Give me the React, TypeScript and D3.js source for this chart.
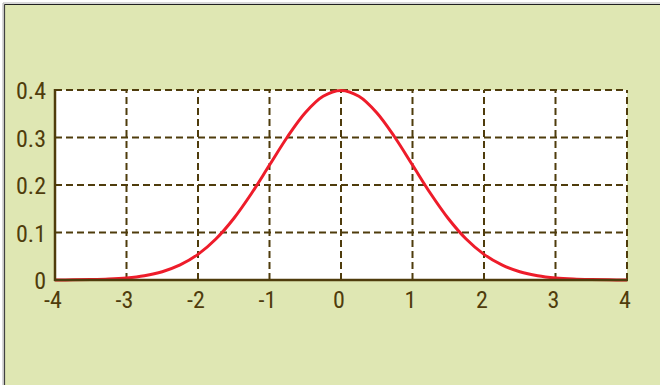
import React from "react";
import * as d3 from "d3";

const xValues = [-4, -3.75, -3.5, -3.25, -3, -2.75, -2.5, -2.25, -2, -1.75, -1.5, -1.25, -1, -0.75, -0.5, -0.25, 0, 0.25, 0.5, 0.75, 1, 1.25, 1.5, 1.75, 2, 2.25, 2.5, 2.75, 3, 3.25, 3.5, 3.75, 4];
const yValues = [0.0001, 0.0004, 0.0009, 0.002, 0.0044, 0.0091, 0.0175, 0.0317, 0.054, 0.0863, 0.1295, 0.1826, 0.242, 0.3011, 0.3521, 0.3867, 0.3989, 0.3867, 0.3521, 0.3011, 0.242, 0.1826, 0.1295, 0.0863, 0.054, 0.0317, 0.0175, 0.0091, 0.0044, 0.002, 0.0009, 0.0004, 0.0001];
const xTicks = [-4, -3, -2, -1, 0, 1, 2, 3, 4];
const yTicks = [0, 0.1, 0.2, 0.3, 0.4];

const W = 660;
const H = 385;
const left = 55;
const right = 627;
const top = 90;
const bottom = 280;

const axisColor = "#4f3c0c";
const font = "'Liberation Sans Narrow', 'Roboto Condensed', 'Liberation Sans', Arial, sans-serif";

export default function App() {
  const x = d3.scaleLinear().domain([-4, 4]).range([left, right]);
  const y = d3.scaleLinear().domain([0, 0.4]).range([bottom, top]);
  const pts: [number, number][] = xValues.map((v, i) => [v, yValues[i]]);
  const line = d3
    .line<[number, number]>()
    .x((d) => x(d[0]))
    .y((d) => y(d[1]))
    .curve(d3.curveCatmullRom.alpha(0.5));

  return (
    <svg width={W} height={H} style={{ position: "absolute", left: 0, top: 0 }}>
      <rect x={0} y={0} width={W} height={H} fill="#ffffff" />
      <rect x={4} y={4} width={W} height={H} fill="#dfe7b3" />
      <line x1={3} y1={3} x2={3} y2={H} stroke="#b0b0b0" strokeWidth={1} />
      <line x1={3} y1={3} x2={W} y2={3} stroke="#b0b0b0" strokeWidth={1} />
      <line x1={4.5} y1={4.5} x2={4.5} y2={H} stroke="#404040" strokeWidth={1.2} />
      <line x1={4.5} y1={4.5} x2={W} y2={4.5} stroke="#202020" strokeWidth={1.2} />
      <rect x={left} y={top} width={right - left} height={bottom - top} fill="#ffffff" />
      {xTicks.slice(1).map((t) => (
        <line key={"gx" + t} x1={x(t)} x2={x(t)} y1={bottom} y2={top} stroke={axisColor} strokeWidth={2} strokeDasharray="7,4" />
      ))}
      {yTicks.slice(1).map((t) => (
        <line key={"gy" + t} x1={left} x2={right} y1={y(t)} y2={y(t)} stroke={axisColor} strokeWidth={2} strokeDasharray="7,4" />
      ))}
      <path d={line(pts) || ""} fill="none" stroke="#ee1c2a" strokeWidth={3} />
      <line x1={left} x2={left} y1={top - 1} y2={bottom + 1} stroke={axisColor} strokeWidth={2.5} />
      <line x1={left - 1} x2={right + 1} y1={bottom} y2={bottom} stroke={axisColor} strokeWidth={2.5} />
      {yTicks.map((t) => (
        <text key={"ty" + t} x={left - 9} y={y(t) + 0.7} dy="0.36em" textAnchor="end" fontFamily={font} fontSize={24} fontWeight={400} fill={axisColor}>
          {t === 0 ? "0" : d3.format(".1f")(t)}
        </text>
      ))}
      {xTicks.map((t) => (
        <text key={"tx" + t} x={x(t) - 2} y={307.5} textAnchor="middle" fontFamily={font} fontSize={24} fontWeight={400} fill={axisColor}>
          {String(t)}
        </text>
      ))}
    </svg>
  );
}
